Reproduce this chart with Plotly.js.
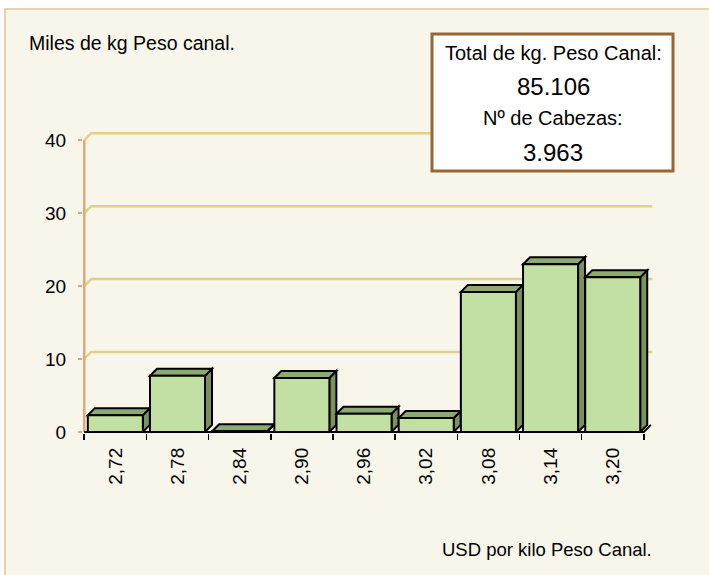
<!DOCTYPE html>
<html>
<head>
<meta charset="utf-8">
<script src="https://cdn.plot.ly/plotly-3.0.1.min.js"></script>
<style>html,body{margin:0;padding:0;background:#fff;}#chart{width:709px;height:575px;}</style>
</head>
<body>
<div id="chart"></div>
<script>
// ---- data ----
const categories = ['2,72', '2,78', '2,84', '2,90', '2,96', '3,02', '3,08', '3,14', '3,20'];
const values = [2.3, 7.7, 0.1, 7.4, 2.5, 1.9, 19.2, 23.0, 21.2];
const yTickValues = [0, 10, 20, 30, 40];
const yAxisTitle = 'Miles de kg Peso canal.';
const xAxisTitle = 'USD por kilo Peso Canal.';
const boxLines = ['Total de kg. Peso Canal:', '85.106', 'Nº de Cabezas:', '3.963'];

// ---- geometry / style ----
const W = 709, H = 575;
const mL = 83, mR = 54, mT = 130, mB = 142;
const plotW = W - mL - mR, plotH = H - mT - mB;
const xRange = [-0.52, 8.68];
const yRange = [-0.15, 41.4];
const pxX = plotW / (xRange[1] - xRange[0]);
const pxY = plotH / (yRange[1] - yRange[0]);
const depthX = 7 / pxX, depthY = 7 / pxY;
const barWidth = 0.885, hw = barWidth / 2;
const FONT = 'Liberation Sans, Arial, sans-serif';

const px2x = p => (p - mL) / plotW;
const py2y = p => (mT + plotH - p) / plotH;

const idx = categories.map((c, i) => i);
const bounds = idx.map(i => i - 0.5).concat([idx[idx.length - 1] + 0.5]);
const xLeft = bounds[0], xRight = bounds[bounds.length - 1];

const shapes = [];
// chart area background
shapes.push({type: 'rect', xref: 'paper', yref: 'paper', layer: 'below',
  x0: px2x(5), x1: px2x(720), y0: py2y(9), y1: py2y(590),
  fillcolor: '#f8f6eb', line: {color: '#e4c49c', width: 1.5}});
// back-wall gridlines
yTickValues.slice(1).forEach(v => {
  shapes.push({type: 'path', xref: 'x', yref: 'y', layer: 'below',
    path: `M ${xLeft},${v} L ${xLeft + depthX},${v + depthY} L ${xRight + depthX * 1.2},${v + depthY}`,
    line: {color: '#dcd28e', width: 2.5}});
});
// y axis line
shapes.push({type: 'line', xref: 'x', yref: 'y', layer: 'below',
  x0: xLeft, x1: xLeft, y0: 0, y1: yTickValues[yTickValues.length - 1],
  line: {color: '#dea878', width: 2.5}});
// bar 3D faces
values.forEach((v, i) => {
  shapes.push({type: 'path', xref: 'x', yref: 'y', layer: 'below',
    path: `M ${i + hw},0 L ${i + hw},${v} L ${i + hw + depthX},${v + depthY} L ${i + hw + depthX},${depthY} Z`,
    fillcolor: '#7b925f', line: {color: '#000', width: 2}});
  shapes.push({type: 'path', xref: 'x', yref: 'y', layer: 'below',
    path: `M ${i - hw},${v} L ${i - hw + depthX},${v + depthY} L ${i + hw + depthX},${v + depthY} L ${i + hw},${v} Z`,
    fillcolor: '#8da974', line: {color: '#000', width: 2}});
});
// floor front edge + right diagonal
shapes.push({type: 'path', xref: 'x', yref: 'y', layer: 'above',
  path: `M ${xLeft},0 L ${xRight},0 L ${xRight + depthX},${depthY}`,
  line: {color: '#000', width: 2}});
// info box
shapes.push({type: 'rect', xref: 'paper', yref: 'paper', layer: 'above',
  x0: px2x(432), x1: px2x(673), y0: py2y(171), y1: py2y(34),
  fillcolor: '#ffffff', line: {color: '#9a6535', width: 3}});

const boxY = [53, 87, 118, 152];
const boxSize = [20, 24, 20, 24];
const annotations = boxLines.map((t, k) => ({
  text: t, xref: 'paper', yref: 'paper', x: px2x(553), y: py2y(boxY[k]),
  xanchor: 'center', yanchor: 'middle', showarrow: false,
  font: {family: FONT, size: boxSize[k], color: '#000'}
}));
annotations.push({text: yAxisTitle, xref: 'paper', yref: 'paper', x: px2x(27), y: py2y(43),
  xanchor: 'left', yanchor: 'middle', showarrow: false, font: {family: FONT, size: 19.5, color: '#000'}});
annotations.push({text: xAxisTitle, xref: 'paper', yref: 'paper', x: px2x(440), y: py2y(549),
  xanchor: 'left', yanchor: 'middle', showarrow: false, font: {family: FONT, size: 18.5, color: '#000'}});

const trace = {
  type: 'bar', x: idx, y: values, width: barWidth,
  marker: {color: '#c2e0a4', line: {color: '#000', width: 2}},
  hoverinfo: 'skip'
};

const layout = {
  width: W, height: H,
  margin: {l: mL, r: mR, t: mT, b: mB, pad: 0},
  paper_bgcolor: '#ffffff', plot_bgcolor: 'rgba(0,0,0,0)',
  showlegend: false,
  font: {family: FONT, color: '#000'},
  xaxis: {
    type: 'linear', range: xRange, tickmode: 'array', tickvals: idx, ticktext: categories,
    ticks: '', tickangle: -90, tickfont: {family: FONT, size: 19, color: '#000'},
    showgrid: false, zeroline: false, showline: false, ticklabelstandoff: 10,
    minor: {tickmode: 'array', tickvals: bounds, ticks: 'outside', ticklen: 6, tickwidth: 1.5, tickcolor: '#000', showgrid: false}
  },
  yaxis: {
    range: yRange, tickmode: 'array', tickvals: yTickValues,
    ticks: 'outside', ticklen: 4, tickwidth: 2, tickcolor: '#dea878',
    tickfont: {family: FONT, size: 19, color: '#000'},
    showgrid: false, zeroline: false, showline: false, ticklabelstandoff: 8
  },
  shapes: shapes,
  annotations: annotations
};

Plotly.newPlot('chart', [trace], layout, {displayModeBar: false, staticPlot: true});
</script>
</body>
</html>
